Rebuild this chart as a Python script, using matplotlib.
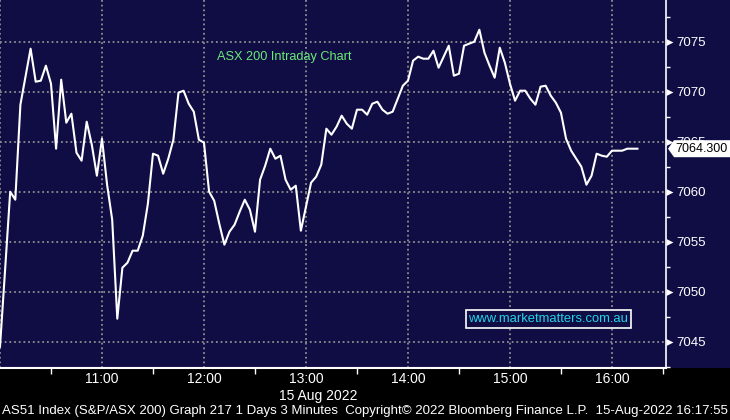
import numpy as np
import matplotlib
matplotlib.use("Agg")
import matplotlib.pyplot as plt
from matplotlib.patches import Rectangle, Polygon
from matplotlib.path import Path

# ASX 200 intraday, 3 minute bars from 10:00
bar_minutes = 3
prices = [7044.5, 7052.2, 7060.0, 7059.2, 7068.7, 7071.5, 7074.3, 7071.0, 7071.1, 7072.6,
          7070.8, 7064.3, 7071.2, 7066.9, 7067.8, 7063.9, 7063.1, 7067.0, 7064.7, 7061.6,
          7065.3, 7060.7, 7057.2, 7047.3, 7052.4, 7052.9, 7054.1, 7054.1, 7055.6, 7058.8,
          7063.8, 7063.6, 7061.8, 7063.3, 7065.2, 7069.9, 7070.1, 7068.8, 7068.0, 7065.2,
          7064.9, 7060.0, 7059.1, 7056.8, 7054.7, 7056.0, 7056.7, 7058.0, 7059.2, 7058.2,
          7056.0, 7061.2, 7062.6, 7064.3, 7063.3, 7063.6, 7061.2, 7060.2, 7060.6, 7056.1,
          7058.5, 7060.9, 7061.5, 7062.7, 7066.3, 7065.7, 7066.5, 7067.6, 7066.8, 7066.3,
          7068.2, 7068.2, 7067.7, 7068.8, 7069.0, 7068.2, 7067.8, 7068.0, 7069.3, 7070.6,
          7071.1, 7073.1, 7073.5, 7073.3, 7073.3, 7074.1, 7072.4, 7073.5, 7074.6, 7071.6,
          7071.8, 7074.6, 7074.8, 7075.0, 7076.2, 7073.9, 7072.6, 7071.4, 7074.4, 7072.9,
          7070.8, 7069.1, 7070.1, 7070.1, 7069.3, 7068.7, 7070.5, 7070.6, 7069.6, 7068.9,
          7067.9, 7065.3, 7064.1, 7063.3, 7062.5, 7060.7, 7061.6, 7063.8, 7063.6, 7063.5,
          7064.1, 7064.1, 7064.1, 7064.3, 7064.3, 7064.3]

hour_ticks = [0, 60, 120, 180, 240, 300, 360]
hour_labels = ["", "11:00", "12:00", "13:00", "14:00", "15:00", "16:00"]
half_ticks = [30, 90, 150, 210, 270, 330, 390]
price_ticks = [7045, 7050, 7055, 7060, 7065, 7070, 7075]
price_minor = [7042.5, 7047.5, 7052.5, 7057.5, 7062.5, 7067.5, 7072.5, 7077.5]

navy = "#100d45"
grid_col = "#8e8e8e"
sans = "Liberation Sans"

times = np.arange(len(prices)) * bar_minutes

fig = plt.figure(figsize=(7.3, 4.2), dpi=100, facecolor="black")
bottom = 52 / 420
fig.patches.append(Rectangle((0, bottom), 1, 1 - bottom, transform=fig.transFigure,
                             facecolor=navy, edgecolor="none", zorder=-1))
ax = fig.add_axes([0, bottom, 666 / 730, 1 - bottom])
ax.set_facecolor(navy)

ax.plot(times, prices, color="white", lw=1.5, zorder=3)

ax.set_xlim(0, 391.8)
ax.set_ylim(7042.37, 7079.17)

ax.set_axisbelow(True)
ax.set_xticks(hour_ticks)
ax.set_xticklabels(hour_labels, family=sans, fontsize=10, color="white")
ax.set_xticks(half_ticks, minor=True)
ax.yaxis.tick_right()
ax.set_yticks(price_ticks)
ax.set_yticklabels([str(p) for p in price_ticks], family=sans, fontsize=9.5, color="white")
ax.set_yticks(price_minor, minor=True)
ax.tick_params(axis="x", which="major", length=0, pad=3)
ax.tick_params(axis="x", which="minor", length=4, width=1, color="white", direction="out")
ax.tick_params(axis="y", which="major", length=0, pad=7.5)
ax.tick_params(axis="y", which="minor", length=3, width=1, color="white", direction="out")
ax.grid(True, which="major", color=grid_col, lw=1.3, linestyle=(0, (1, 1.6)))

for s in ["top", "left"]:
    ax.spines[s].set_visible(False)
ax.spines["right"].set_color("white")
ax.spines["bottom"].set_color("white")
ax.spines["right"].set_linewidth(1.2)
ax.spines["bottom"].set_linewidth(1.5)

# arrow shaped major ticks on the price axis
arrow = Path([(0, -0.5), (1, 0), (0, 0.5), (0, -0.5)])
ax.plot([1.0] * len(price_ticks), price_ticks, transform=ax.get_yaxis_transform(),
        ls="none", marker=arrow, ms=10, color="white", mew=0, clip_on=False, zorder=4)

# last price callout
last = prices[-1]
h = 0.85
callout = Polygon([(1.003, last), (1.012, last + h), (1.12, last + h), (1.12, last - h), (1.012, last - h)],
                  closed=True, transform=ax.get_yaxis_transform(), facecolor="white",
                  edgecolor="none", clip_on=False, zorder=10)
ax.add_patch(callout)
ax.text(1.0135, last, f"{last:.3f}", transform=ax.get_yaxis_transform(), ha="left", va="center",
        family=sans, fontsize=9, color="black", zorder=11, clip_on=False)

ax.text(0.4264, 0.846, "ASX 200 Intraday Chart", transform=ax.transAxes, ha="center", va="center",
        family=sans, fontsize=9.2, color="#6aea78")
ax.text(0.823, 0.133, "www.marketmatters.com.au", transform=ax.transAxes, ha="center", va="center",
        family=sans, fontsize=9.4, color="#22d3e8",
        bbox=dict(boxstyle="square,pad=0.2", facecolor=navy, edgecolor="white", lw=1.2))

fig.text(318 / 730, 24 / 420, "15 Aug 2022", ha="center", va="center", family=sans,
         fontsize=10, color="white")
footer = fig.text(2 / 730, 9 / 420,
                  "AS51 Index (S&P/ASX 200) Graph 217 1 Days 3 Minutes  Copyright\u00a9 2022 Bloomberg Finance L.P.  15-Aug-2022 16:17:55",
                  ha="left", va="center", family=sans, fontsize=10, color="white")

# shrink the footer so it spans the width like the original
r = fig.canvas.get_renderer()
w = footer.get_window_extent(r).width
footer.set_fontsize(10 * 725 / w)

fig.savefig("out.png", dpi=100, facecolor=fig.get_facecolor())
